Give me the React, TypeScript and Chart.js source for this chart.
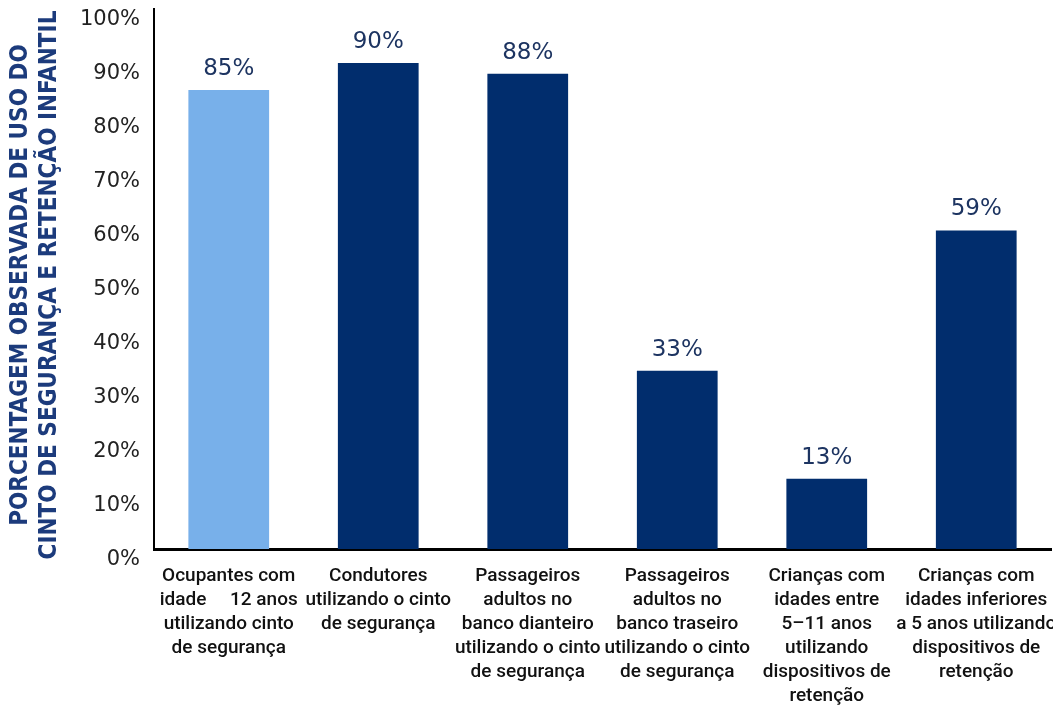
import React, { useEffect, useRef } from "react";
import { Chart, registerables } from "chart.js";

Chart.register(...registerables);

const categories: string[][] = [
  ["Ocupantes com", "idade     12 anos", "utilizando cinto", "de segurança"],
  ["Condutores", "utilizando o cinto", "de segurança"],
  ["Passageiros", "adultos no", "banco dianteiro", "utilizando o cinto", "de segurança"],
  ["Passageiros", "adultos no", "banco traseiro", "utilizando o cinto", "de segurança"],
  ["Crianças com", "idades entre", "5–11 anos", "utilizando", "dispositivos de", "retenção"],
  ["Crianças com", "idades inferiores", "a 5 anos utilizando", "dispositivos de", "retenção"],
];
const values: number[] = [85, 90, 88, 33, 13, 59];
const valueLabels: string[] = ["85%", "90%", "88%", "33%", "13%", "59%"];
const barColors: string[] = ["#78b0ea", "#012d6d", "#012d6d", "#012d6d", "#012d6d", "#012d6d"];
const yTitleLines: string[] = ["PORCENTAGEM OBSERVADA DE USO DO", "CINTO DE SEGURANÇA E RETENÇÃO INFANTIL"];

const overlayPlugin = {
  id: "overlay",
  afterDatasetsDraw(chart: any) {
    const ctx = chart.ctx;
    const meta = chart.getDatasetMeta(0);
    ctx.save();
    ctx.fillStyle = "#1d3461";
    ctx.font = "23px 'DejaVu Sans'";
    ctx.textAlign = "center";
    ctx.textBaseline = "middle";
    meta.data.forEach((bar: any, i: number) => {
      ctx.fillText(valueLabels[i], bar.x, bar.y - 21);
    });
    ctx.restore();

    const area = chart.chartArea;
    const cy = (area.top + area.bottom) / 2 + 6;
    ctx.save();
    ctx.fillStyle = "#1c3b7c";
    ctx.font = "bold 24px 'DejaVu Sans Condensed', 'DejaVu Sans'";
    ctx.textAlign = "center";
    ctx.textBaseline = "middle";
    const xs = [21, 50];
    yTitleLines.forEach((line, i) => {
      ctx.save();
      ctx.translate(xs[i], cy);
      ctx.rotate(-Math.PI / 2);
      ctx.fillText(line, 0, 0);
      ctx.restore();
    });
    ctx.restore();
  },
};

export default function App() {
  const ref = useRef<HTMLCanvasElement | null>(null);
  useEffect(() => {
    document.body.style.margin = "0";
    if (!ref.current) return;
    const chart = new Chart(ref.current, {
      type: "bar",
      data: {
        labels: categories,
        datasets: [
          {
            data: values,
            backgroundColor: barColors,
            borderWidth: 0,
            barPercentage: 0.54,
            categoryPercentage: 1,
          },
        ],
      },
      options: {
        responsive: false,
        animation: false,
        devicePixelRatio: 1,
        layout: { padding: { top: 9, right: 2, left: 0, bottom: 0 } },
        plugins: { legend: { display: false }, tooltip: { enabled: false } },
        scales: {
          x: {
            grid: { display: false, drawTicks: false },
            border: { display: true, color: "#000", width: 3 },
            ticks: {
              autoSkip: false,
              maxRotation: 0,
              minRotation: 0,
              padding: 15,
              color: "#111",
              font: { family: "Roboto", size: 19, weight: "500", lineHeight: 1.27 },
            },
            afterFit: (s: any) => {
              s.height = 156;
              s.paddingLeft = 0;
              s.paddingRight = 0;
            },
          },
          y: {
            min: 0,
            max: 100,
            grid: { display: false, drawTicks: false },
            border: { display: true, color: "#000", width: 2 },
            ticks: {
              stepSize: 10,
              padding: 14,
              labelOffset: 11,
              color: "#222",
              font: { family: "DejaVu Sans", size: 21 },
              callback: (v: any) => v + "%",
            },
            afterFit: (s: any) => {
              s.width = 154;
              s.paddingTop = 0;
              s.paddingBottom = 0;
            },
          },
        },
      },
      plugins: [overlayPlugin],
    });
    return () => chart.destroy();
  }, []);
  return (
    <div style={{ width: 1053, height: 705 }}>
      <canvas ref={ref} width={1053} height={705} />
    </div>
  );
}
